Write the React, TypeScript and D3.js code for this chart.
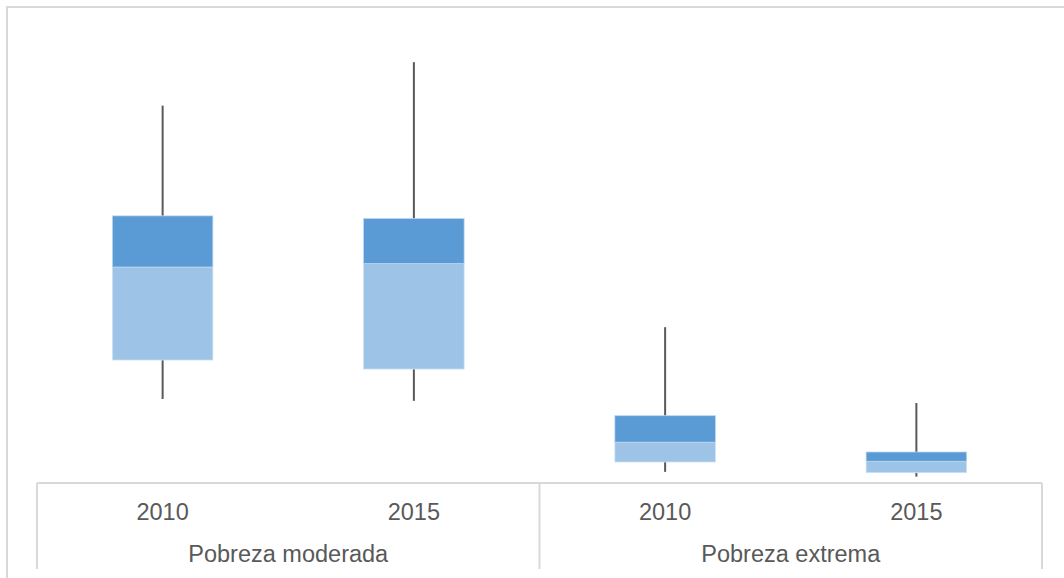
import React from "react";
import * as d3 from "d3";

const groups = ["Pobreza moderada", "Pobreza extrema"];
const years = ["2010", "2015"];
const categories = ["M-2010", "M-2015", "E-2010", "E-2015"];
const minValues = [15.85, 15.5, 2.1, 1.2];
const q1Values = [23.2, 21.5, 3.96, 1.94];
const medianValues = [40.75, 41.4, 7.7, 4.1];
const q3Values = [50.4, 49.9, 12.7, 5.85];
const maxValues = [71.2, 79.4, 29.4, 15.1];

const W = 1064;
const H = 578;
const plotLeft = 37;
const plotRight = 1042;
const axisY = 483;

export default function App() {
  const x = d3.scaleBand<string>().domain(categories).range([plotLeft, plotRight]).paddingInner(0.6).paddingOuter(0.3);
  const xOuter = d3.scaleBand<string>().domain(categories).range([plotLeft, plotRight]);
  const y = d3.scaleLinear().domain([0, 80]).range([axisY, 59]);
  const gx = d3.scaleBand<string>().domain(groups).range([plotLeft, plotRight]);
  const bw = x.bandwidth();
  const textColor = "#595959";
  const grid = "#d9d9d9";
  return (
    <svg width={W} height={H} style={{ position: "absolute", left: 0, top: 0, display: "block" }} fontFamily="'Liberation Sans', Arial, sans-serif">
      <rect x={0} y={0} width={W} height={H} fill="#fff" />
      <rect x={7} y={7} width={W + 20} height={H + 20} fill="none" stroke={grid} strokeWidth={2} />
      {categories.map((c, i) => {
        const cx = xOuter(c)! + xOuter.bandwidth() / 2;
        const x0 = cx - bw / 2;
        return (
          <g key={c}>
            <line x1={cx} x2={cx} y1={y(maxValues[i])} y2={y(q3Values[i])} stroke="#595959" strokeWidth={2} />
            <line x1={cx} x2={cx} y1={y(q1Values[i])} y2={y(minValues[i])} stroke="#595959" strokeWidth={2} />
            <rect x={x0} y={y(medianValues[i])} width={bw} height={y(q1Values[i]) - y(medianValues[i])} fill="#9DC3E6" stroke="#cfe2f3" strokeWidth={0.75} />
            <rect x={x0} y={y(q3Values[i])} width={bw} height={y(medianValues[i]) - y(q3Values[i])} fill="#5B9BD5" stroke="#bcd6ee" strokeWidth={0.75} />
            <text x={cx} y={520} textAnchor="middle" fontSize={23.5} fill={textColor}>{years[i % 2]}</text>
          </g>
        );
      })}
      <line x1={plotLeft} x2={plotRight} y1={axisY} y2={axisY} stroke={grid} strokeWidth={2} />
      {[plotLeft, plotLeft + gx.bandwidth(), plotRight].map((px, i) => (
        <line key={i} x1={px} x2={px} y1={axisY} y2={569} stroke={grid} strokeWidth={2} />
      ))}
      {groups.map((g) => (
        <text key={g} x={gx(g)! + gx.bandwidth() / 2} y={561.5} textAnchor="middle" fontSize={23.5} fill={textColor}>{g}</text>
      ))}
    </svg>
  );
}
